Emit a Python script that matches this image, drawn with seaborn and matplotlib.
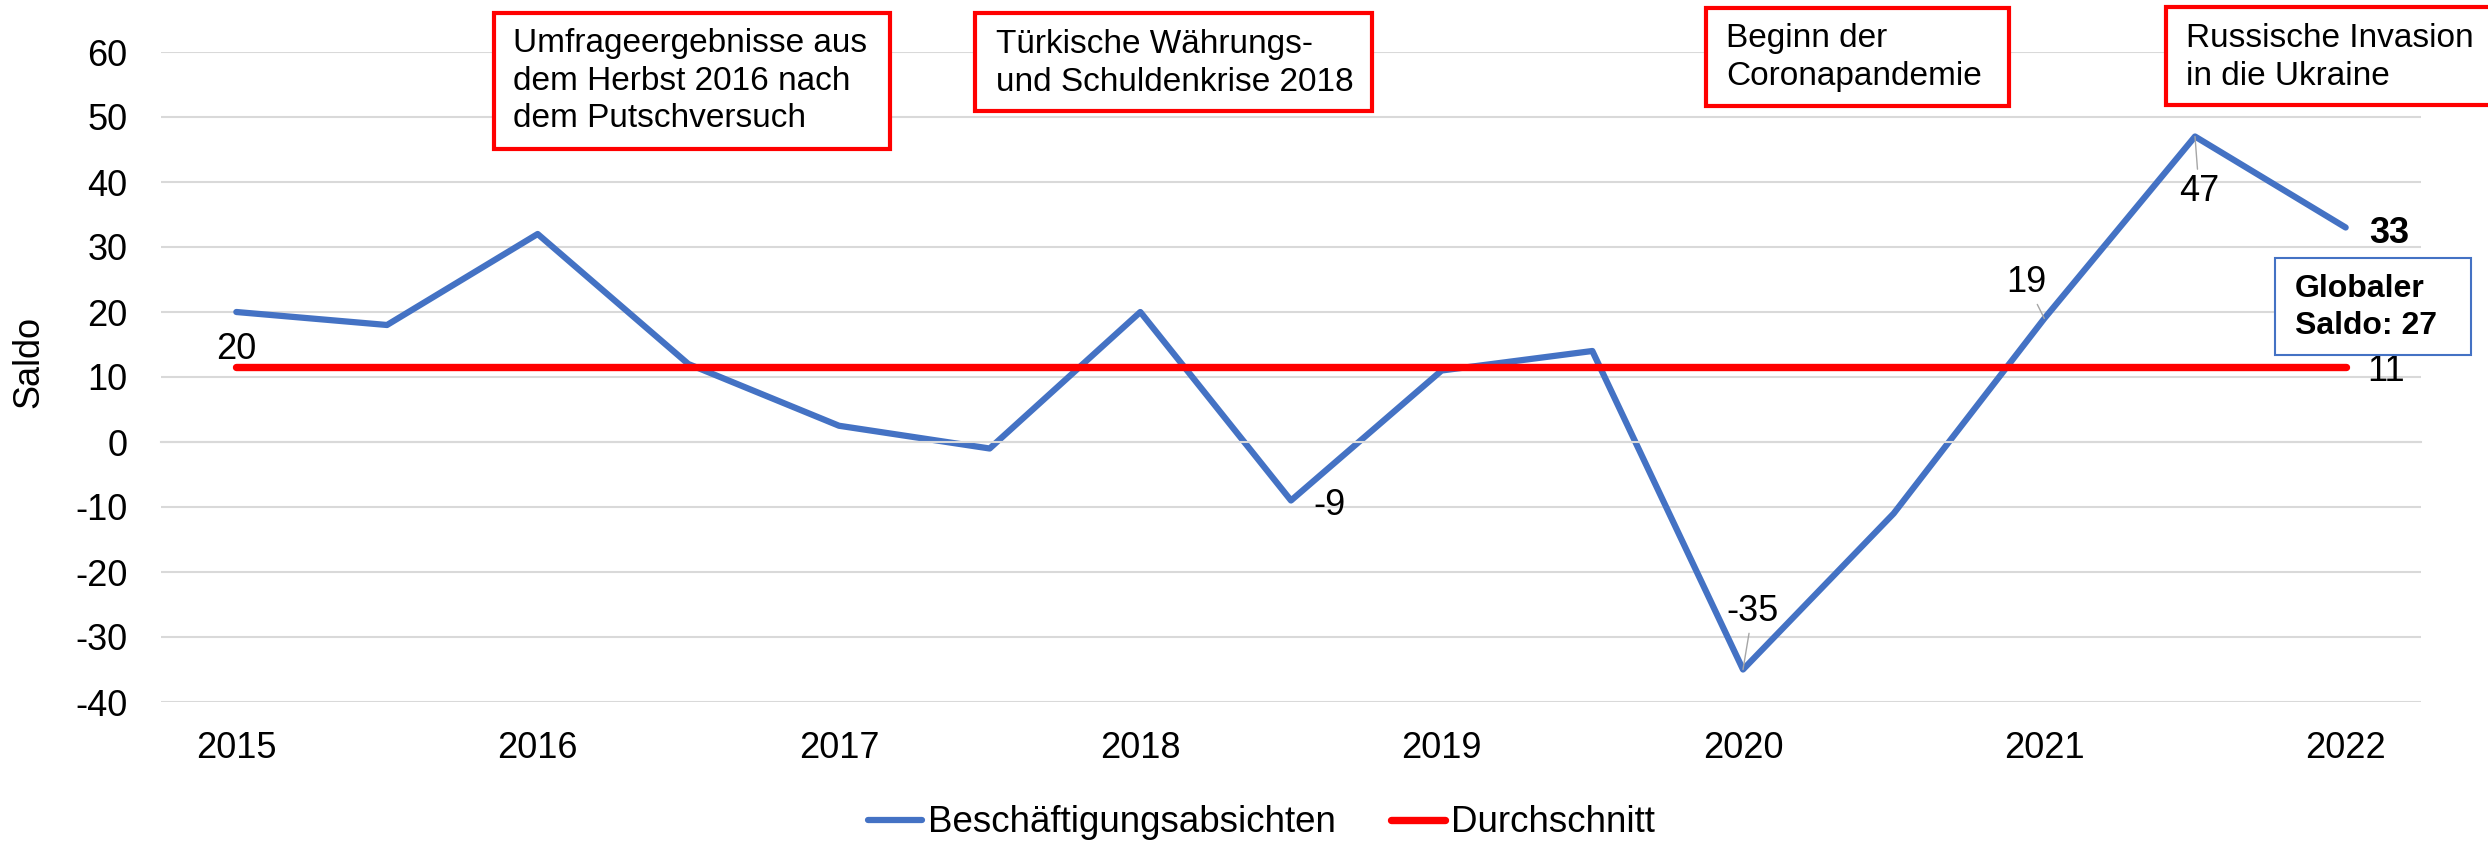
import numpy as np
import matplotlib.pyplot as plt
import pandas as pd
import seaborn as sns
from matplotlib.patches import Rectangle

# halbjaehrliche Umfragen, Herbst 2015 bis Herbst 2022
periode = list(range(15))
jahre = ['2015', '2016', '2017', '2018', '2019', '2020', '2021', '2022']
saldo = [20, 18, 32, 12, 2.5, -1, 20, -9, 11, 14, -35, -11, 19, 47, 33]
schnitt = [11.5] * 15

blau = '#4472C4'
rot = '#FF0000'
grau = '#d9d9d9'

dframe = pd.DataFrame({'periode': periode, 'saldo': saldo, 'schnitt': schnitt})

sns.set_style('white')
plt.rcParams['font.family'] = ['Liberation Sans', 'DejaVu Sans']
plt.rcParams['axes.unicode_minus'] = False
plt.rcParams['text.color'] = 'black'
plt.rcParams['xtick.color'] = 'black'
plt.rcParams['ytick.color'] = 'black'

W, H = 2488, 842
fig = plt.figure(figsize=(W / 100, H / 100), dpi=100)
ax = fig.add_axes([161 / W, 1 - 702 / H, (2421 - 161) / W, (702 - 52) / H])

sns.lineplot(x='periode', y='saldo', data=dframe, color=blau, lw=4.5,
             label='Beschäftigungsabsichten', ax=ax)
sns.lineplot(x='periode', y='schnitt', data=dframe, color=rot, lw=5.3,
             label='Durchschnitt', ax=ax)

ax.set_xlim(-0.5, 14.5)
ax.set_ylim(-40, 60)
ax.set_yticks(range(-40, 61, 10))
ax.yaxis.grid(True, color=grau, lw=1.5)
ax.set_axisbelow(True)
for s in ['left', 'right', 'top']:
    ax.spines[s].set_visible(False)
ax.spines['bottom'].set_position(('data', 0))
ax.spines['bottom'].set_color(grau)
ax.spines['bottom'].set_linewidth(1.5)

ax.set_xticks(range(0, 15, 2))
ax.set_xticklabels(jahre)
ax.set_xticks(np.arange(-0.5, 15, 1), minor=True)
ax.tick_params(axis='x', which='major', length=0, pad=208, labelsize=26)
ax.tick_params(axis='x', which='minor', length=8, width=1.5, color=grau,
               direction='out')
ax.tick_params(axis='y', length=0, pad=24, labelsize=26)
ax.set_xlabel('')
ax.set_ylabel('')
fig.text(29 / W, 1 - 362 / H, 'Saldo', rotation=90, ha='center', va='center',
         fontsize=26)

# Datenbeschriftungen (Index, Text, Versatz in Punkten, Fuehrungslinie, fett)
leader = dict(arrowstyle='-', color='#a6a6a6', lw=1, shrinkA=1, shrinkB=0)
labels = [
    (0, '20', (0, -27), False, False),
    (7, '-9', (28, -3.5), False, False),
    (10, '-35', (7, 42), True, False),
    (12, '19', (-13, 26), True, False),
    (13, '47', (3, -39.5), True, False),
    (14, '33', (31, -4.5), False, True),
]
for i, txt, off, lead, fett in labels:
    ax.annotate(txt, xy=(periode[i], saldo[i]), xytext=off,
                textcoords='offset points', ha='center', va='center',
                fontsize=26, fontweight='bold' if fett else 'normal',
                arrowprops=leader if lead else None)
ax.annotate('11', xy=(periode[-1], schnitt[-1]), xytext=(29, -3),
            textcoords='offset points', ha='center', va='center', fontsize=26)

# Ereignis-Kaesten (Pixelkoordinaten der Vorlage, Text oben links)
kaesten = [
    (494, 13, 890, 149, 513, 28, 'Umfrageergebnisse aus\ndem Herbst 2016 nach\ndem Putschversuch'),
    (975, 13, 1372, 111, 996, 29, 'Türkische Währungs-\nund Schuldenkrise 2018'),
    (1706, 8, 2009, 106, 1726, 23, 'Beginn der\nCoronapandemie'),
    (2166, 7, 2520, 105, 2186, 23, 'Russische Invasion\nin die Ukraine'),
]
for x0, y0, x1, y1, tx, ty, txt in kaesten:
    fig.add_artist(Rectangle((x0 / W, 1 - y1 / H), (x1 - x0) / W, (y1 - y0) / H,
                             transform=fig.transFigure, facecolor='white',
                             edgecolor=rot, lw=3, zorder=3))
    fig.text(tx / W, 1 - ty / H, txt, ha='left', va='top', fontsize=24,
             linespacing=1.28, zorder=4)

fig.add_artist(Rectangle((2275 / W, 1 - 355 / H), (2471 - 2275) / W, (355 - 258) / H,
                         transform=fig.transFigure, facecolor='white',
                         edgecolor=blau, lw=1.5, zorder=3))
fig.text(2295 / W, 1 - 274 / H, 'Globaler\nSaldo: 27', ha='left', va='top',
         fontsize=23, fontweight='bold', linespacing=1.3, zorder=4)

ax.legend(loc='center', bbox_to_anchor=(0.507, 0.0226), bbox_transform=fig.transFigure,
          ncol=2, frameon=False, fontsize=26.5, handlelength=1.47,
          handletextpad=0.16, columnspacing=1.52, borderpad=0)

fig.savefig('out.png', dpi=100)
